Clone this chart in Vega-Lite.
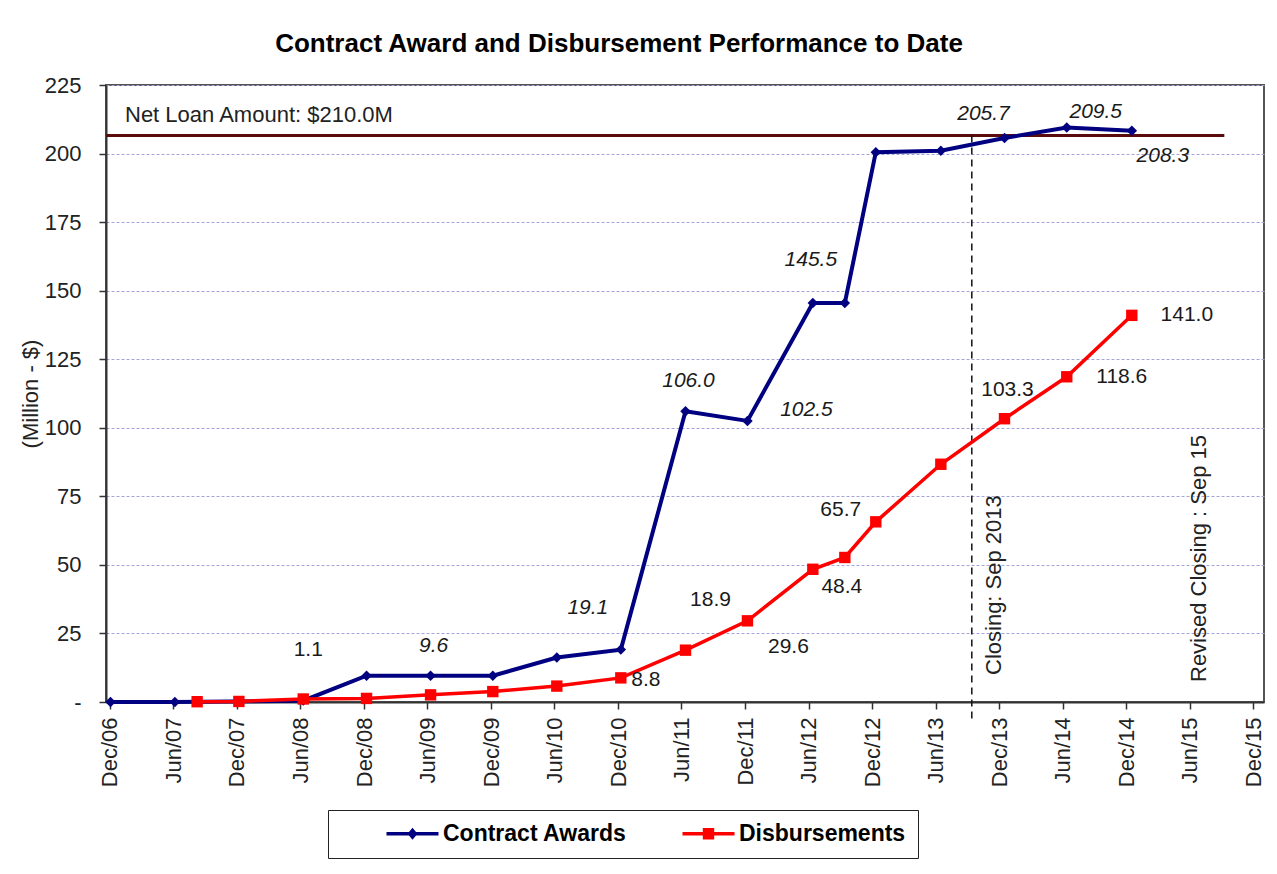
{
  "$schema": "https://vega.github.io/schema/vega-lite/v6.json",
  "width": 1158,
  "height": 617,
  "autosize": {"type": "none"},
  "padding": {"left": 106, "top": 85, "right": 13, "bottom": 172},
  "background": "white",
  "title": {
    "text": "Contract Award and Disbursement  Performance  to Date",
    "font": "Liberation Sans", "fontSize": 26, "fontWeight": "bold", "color": "black",
    "frame": "group", "anchor": "middle", "dx": -66, "offset": -4, "baseline": "alphabetic"
  },
  "config": {
    "font": "Liberation Sans",
    "view": {"stroke": "#555555", "strokeWidth": 2}
  },
  "datasets": {
    "main": [
      {"date": "2006-12-03", "series": "Contract Awards", "value": 0},
      {"date": "2007-06-06", "series": "Contract Awards", "value": 0},
      {"date": "2008-06-09", "series": "Contract Awards", "value": 0.5},
      {"date": "2008-12-08", "series": "Contract Awards", "value": 9.6},
      {"date": "2009-06-10", "series": "Contract Awards", "value": 9.6, "label": "9.6"},
      {"date": "2009-12-06", "series": "Contract Awards", "value": 9.6},
      {"date": "2010-06-08", "series": "Contract Awards", "value": 16.2},
      {"date": "2010-12-09", "series": "Contract Awards", "value": 19.1, "label": "19.1"},
      {"date": "2011-06-13", "series": "Contract Awards", "value": 106.0, "label": "106.0"},
      {"date": "2011-12-08", "series": "Contract Awards", "value": 102.5, "label": "102.5"},
      {"date": "2012-06-13", "series": "Contract Awards", "value": 145.5, "label": "145.5"},
      {"date": "2012-09-13", "series": "Contract Awards", "value": 145.5},
      {"date": "2012-12-11", "series": "Contract Awards", "value": 200.5},
      {"date": "2013-06-16", "series": "Contract Awards", "value": 201.0},
      {"date": "2013-12-16", "series": "Contract Awards", "value": 205.7, "label": "205.7"},
      {"date": "2014-06-13", "series": "Contract Awards", "value": 209.5, "label": "209.5"},
      {"date": "2014-12-17", "series": "Contract Awards", "value": 208.3, "label": "208.3"},
      {"date": "2007-08-09", "series": "Disbursements", "value": 0.1},
      {"date": "2007-12-07", "series": "Disbursements", "value": 0.2},
      {"date": "2008-06-09", "series": "Disbursements", "value": 1.1, "label": "1.1"},
      {"date": "2008-12-08", "series": "Disbursements", "value": 1.3},
      {"date": "2009-06-10", "series": "Disbursements", "value": 2.6},
      {"date": "2009-12-06", "series": "Disbursements", "value": 3.8},
      {"date": "2010-06-08", "series": "Disbursements", "value": 5.8},
      {"date": "2010-12-09", "series": "Disbursements", "value": 8.8, "label": "8.8"},
      {"date": "2011-06-13", "series": "Disbursements", "value": 18.9, "label": "18.9"},
      {"date": "2011-12-08", "series": "Disbursements", "value": 29.6, "label": "29.6"},
      {"date": "2012-06-13", "series": "Disbursements", "value": 48.4, "label": "48.4"},
      {"date": "2012-09-13", "series": "Disbursements", "value": 52.7},
      {"date": "2012-12-11", "series": "Disbursements", "value": 65.7, "label": "65.7"},
      {"date": "2013-06-16", "series": "Disbursements", "value": 86.7},
      {"date": "2013-12-16", "series": "Disbursements", "value": 103.3, "label": "103.3"},
      {"date": "2014-06-13", "series": "Disbursements", "value": 118.6, "label": "118.6"},
      {"date": "2014-12-17", "series": "Disbursements", "value": 141.0, "label": "141.0"}
    ]
  },
  "layer": [
    {
      "data": {"values": [{"start": "2006-11-20", "end": "2015-09-09", "value": 206.6, "label": "Net Loan Amount: $210.0M"}]},
      "mark": {"type": "rule", "color": "#5a0c0c", "strokeWidth": 3},
      "encoding": {
        "x": {
          "field": "start", "type": "temporal",
          "scale": {"type": "utc", "domain": [{"year": 2006, "month": 11, "date": 20, "utc": true}, {"year": 2016, "month": 1, "date": 1, "utc": true}]},
          "axis": {
            "values": [
              {"year": 2006, "month": 12, "date": 1, "utc": true},
              {"year": 2007, "month": 6, "date": 1, "utc": true},
              {"year": 2007, "month": 12, "date": 1, "utc": true},
              {"year": 2008, "month": 6, "date": 1, "utc": true},
              {"year": 2008, "month": 12, "date": 1, "utc": true},
              {"year": 2009, "month": 6, "date": 1, "utc": true},
              {"year": 2009, "month": 12, "date": 1, "utc": true},
              {"year": 2010, "month": 6, "date": 1, "utc": true},
              {"year": 2010, "month": 12, "date": 1, "utc": true},
              {"year": 2011, "month": 6, "date": 1, "utc": true},
              {"year": 2011, "month": 12, "date": 1, "utc": true},
              {"year": 2012, "month": 6, "date": 1, "utc": true},
              {"year": 2012, "month": 12, "date": 1, "utc": true},
              {"year": 2013, "month": 6, "date": 1, "utc": true},
              {"year": 2013, "month": 12, "date": 1, "utc": true},
              {"year": 2014, "month": 6, "date": 1, "utc": true},
              {"year": 2014, "month": 12, "date": 1, "utc": true},
              {"year": 2015, "month": 6, "date": 1, "utc": true},
              {"year": 2015, "month": 12, "date": 1, "utc": true}
            ],
            "labelExpr": "utcFormat(datum.value, '%b/%y')",
            "labelAngle": 270, "labelFontSize": 22, "labelColor": "#222222", "labelPadding": 8,
            "labelOverlap": false, "labelFlush": false, "labelBound": false,
            "tickSize": 7, "tickColor": "#333333", "tickWidth": 1.5,
            "domainColor": "#333333", "domainWidth": 2, "grid": false, "title": null
          }
        },
        "x2": {"field": "end"},
        "y": {
          "field": "value", "type": "quantitative",
          "scale": {"domain": [0, 225], "nice": false, "zero": false},
          "axis": {
            "values": [0, 25, 50, 75, 100, 125, 150, 175, 200, 225],
            "labelExpr": "datum.value == 0 ? '-' : datum.label",
            "labelFontSize": 22, "labelColor": "#222222", "labelPadding": 18,
            "tickSize": 7, "tickColor": "#333333", "tickWidth": 1.5,
            "domainColor": "#333333", "domainWidth": 2,
            "grid": true, "gridColor": "#a4a4d8", "gridDash": [3, 2], "gridWidth": 1,
            "title": "(Million - $)", "titleFontSize": 22, "titleFontWeight": "normal", "titleColor": "#222222", "titlePadding": 2
          }
        }
      }
    },
    {
      "data": {"values": [{"start": "2006-11-20", "value": 206.6, "label": "Net Loan Amount: $210.0M"}]},
      "mark": {"type": "text", "align": "left", "baseline": "alphabetic", "dx": 19, "dy": -13, "fontSize": 22, "color": "#222222"},
      "encoding": {
        "x": {"field": "start", "type": "temporal"},
        "y": {"field": "value", "type": "quantitative"},
        "text": {"field": "label"}
      }
    },
    {
      "data": {"values": [{"date": "2013-09-13", "top": 206.6, "bottom": -6, "label": "Closing: Sep 2013"}]},
      "mark": {"type": "rule", "color": "#111111", "strokeWidth": 1.5, "strokeDash": [7, 5]},
      "encoding": {
        "x": {"field": "date", "type": "temporal"},
        "y": {"field": "top", "type": "quantitative"},
        "y2": {"field": "bottom"}
      }
    },
    {
      "data": {"values": [{"date": "2013-09-13", "base": 0, "label": "Closing: Sep 2013"}]},
      "mark": {"type": "text", "angle": 270, "align": "left", "baseline": "middle", "dx": 27, "dy": 22, "fontSize": 22, "color": "#222222"},
      "encoding": {
        "x": {"field": "date", "type": "temporal"},
        "y": {"field": "base", "type": "quantitative"},
        "text": {"field": "label"}
      }
    },
    {
      "data": {"values": [{"date": "2015-09-01", "base": 0, "label": "Revised Closing : Sep 15"}]},
      "mark": {"type": "text", "angle": 270, "align": "left", "baseline": "middle", "dx": 20, "dy": -23, "fontSize": 22, "color": "#222222"},
      "encoding": {
        "x": {"field": "date", "type": "temporal"},
        "y": {"field": "base", "type": "quantitative"},
        "text": {"field": "label"}
      }
    },
    {
      "data": {"name": "main"},
      "transform": [{"filter": "datum.series == 'Contract Awards'"}],
      "mark": {"type": "line", "strokeWidth": 4, "color": "#000080"},
      "encoding": {
        "x": {"field": "date", "type": "temporal"},
        "y": {"field": "value", "type": "quantitative"}
      }
    },
    {
      "data": {"name": "main"},
      "transform": [{"filter": "datum.series == 'Contract Awards'"}],
      "mark": {"type": "point", "shape": "diamond", "filled": true, "size": 110, "color": "#000080", "opacity": 1},
      "encoding": {
        "x": {"field": "date", "type": "temporal"},
        "y": {"field": "value", "type": "quantitative"}
      }
    },
    {
      "data": {"name": "main"},
      "transform": [{"filter": "datum.series == 'Disbursements'"}],
      "mark": {"type": "line", "strokeWidth": 3.5, "color": "#ff0000"},
      "encoding": {
        "x": {"field": "date", "type": "temporal"},
        "y": {"field": "value", "type": "quantitative"}
      }
    },
    {
      "data": {"name": "main"},
      "transform": [{"filter": "datum.series == 'Disbursements'"}],
      "mark": {"type": "point", "shape": "square", "filled": true, "size": 130, "color": "#ff0000", "opacity": 1},
      "encoding": {
        "x": {"field": "date", "type": "temporal"},
        "y": {"field": "value", "type": "quantitative"}
      }
    },
    {"data": {"name": "main"}, "transform": [{"filter": {"field": "label", "oneOf": ["9.6", "106.0"]}}], "mark": {"type": "text", "fontSize": 21, "fontStyle": "italic", "color": "#1a1a1a", "dx": 3, "dy": -30}, "encoding": {"x": {"field": "date", "type": "temporal"}, "y": {"field": "value", "type": "quantitative"}, "text": {"field": "label"}}},
    {"data": {"name": "main"}, "transform": [{"filter": {"field": "label", "equal": "19.1"}}], "mark": {"type": "text", "fontSize": 21, "fontStyle": "italic", "color": "#1a1a1a", "dx": -33, "dy": -42}, "encoding": {"x": {"field": "date", "type": "temporal"}, "y": {"field": "value", "type": "quantitative"}, "text": {"field": "label"}}},
    {"data": {"name": "main"}, "transform": [{"filter": {"field": "label", "equal": "102.5"}}], "mark": {"type": "text", "fontSize": 21, "fontStyle": "italic", "color": "#1a1a1a", "dx": 59, "dy": -11}, "encoding": {"x": {"field": "date", "type": "temporal"}, "y": {"field": "value", "type": "quantitative"}, "text": {"field": "label"}}},
    {"data": {"name": "main"}, "transform": [{"filter": {"field": "label", "equal": "145.5"}}], "mark": {"type": "text", "fontSize": 21, "fontStyle": "italic", "color": "#1a1a1a", "dx": -2, "dy": -43}, "encoding": {"x": {"field": "date", "type": "temporal"}, "y": {"field": "value", "type": "quantitative"}, "text": {"field": "label"}}},
    {"data": {"name": "main"}, "transform": [{"filter": {"field": "label", "equal": "205.7"}}], "mark": {"type": "text", "fontSize": 21, "fontStyle": "italic", "color": "#1a1a1a", "dx": -21, "dy": -24}, "encoding": {"x": {"field": "date", "type": "temporal"}, "y": {"field": "value", "type": "quantitative"}, "text": {"field": "label"}}},
    {"data": {"name": "main"}, "transform": [{"filter": {"field": "label", "equal": "209.5"}}], "mark": {"type": "text", "fontSize": 21, "fontStyle": "italic", "color": "#1a1a1a", "dx": 29, "dy": -16}, "encoding": {"x": {"field": "date", "type": "temporal"}, "y": {"field": "value", "type": "quantitative"}, "text": {"field": "label"}}},
    {"data": {"name": "main"}, "transform": [{"filter": {"field": "label", "equal": "208.3"}}], "mark": {"type": "text", "fontSize": 21, "fontStyle": "italic", "color": "#1a1a1a", "dx": 31, "dy": 25}, "encoding": {"x": {"field": "date", "type": "temporal"}, "y": {"field": "value", "type": "quantitative"}, "text": {"field": "label"}}},
    {"data": {"name": "main"}, "transform": [{"filter": {"field": "label", "equal": "1.1"}}], "mark": {"type": "text", "fontSize": 21, "color": "#1a1a1a", "dx": 5, "dy": -49}, "encoding": {"x": {"field": "date", "type": "temporal"}, "y": {"field": "value", "type": "quantitative"}, "text": {"field": "label"}}},
    {"data": {"name": "main"}, "transform": [{"filter": {"field": "label", "equal": "8.8"}}], "mark": {"type": "text", "fontSize": 21, "color": "#1a1a1a", "dx": 25, "dy": 2}, "encoding": {"x": {"field": "date", "type": "temporal"}, "y": {"field": "value", "type": "quantitative"}, "text": {"field": "label"}}},
    {"data": {"name": "main"}, "transform": [{"filter": {"field": "label", "equal": "18.9"}}], "mark": {"type": "text", "fontSize": 21, "color": "#1a1a1a", "dx": 25, "dy": -50}, "encoding": {"x": {"field": "date", "type": "temporal"}, "y": {"field": "value", "type": "quantitative"}, "text": {"field": "label"}}},
    {"data": {"name": "main"}, "transform": [{"filter": {"field": "label", "equal": "29.6"}}], "mark": {"type": "text", "fontSize": 21, "color": "#1a1a1a", "dx": 41, "dy": 26}, "encoding": {"x": {"field": "date", "type": "temporal"}, "y": {"field": "value", "type": "quantitative"}, "text": {"field": "label"}}},
    {"data": {"name": "main"}, "transform": [{"filter": {"field": "label", "equal": "48.4"}}], "mark": {"type": "text", "fontSize": 21, "color": "#1a1a1a", "dx": 29, "dy": 18}, "encoding": {"x": {"field": "date", "type": "temporal"}, "y": {"field": "value", "type": "quantitative"}, "text": {"field": "label"}}},
    {"data": {"name": "main"}, "transform": [{"filter": {"field": "label", "equal": "65.7"}}], "mark": {"type": "text", "fontSize": 21, "color": "#1a1a1a", "dx": -35, "dy": -12}, "encoding": {"x": {"field": "date", "type": "temporal"}, "y": {"field": "value", "type": "quantitative"}, "text": {"field": "label"}}},
    {"data": {"name": "main"}, "transform": [{"filter": {"field": "label", "equal": "103.3"}}], "mark": {"type": "text", "fontSize": 21, "color": "#1a1a1a", "dx": 3, "dy": -29}, "encoding": {"x": {"field": "date", "type": "temporal"}, "y": {"field": "value", "type": "quantitative"}, "text": {"field": "label"}}},
    {"data": {"name": "main"}, "transform": [{"filter": {"field": "label", "oneOf": ["118.6", "141.0"]}}], "mark": {"type": "text", "fontSize": 21, "color": "#1a1a1a", "dx": 55, "dy": 0}, "encoding": {"x": {"field": "date", "type": "temporal"}, "y": {"field": "value", "type": "quantitative"}, "text": {"field": "label"}}},
    {
      "data": {"name": "main"},
      "transform": [{"filter": "false"}],
      "mark": {"type": "point", "filled": true, "opacity": 1},
      "encoding": {
        "color": {
          "field": "series", "type": "nominal",
          "scale": {"domain": ["Contract Awards", "Disbursements"], "range": ["#000080", "#ff0000"]},
          "legend": {
            "orient": "none", "legendX": 222, "legendY": 725, "direction": "horizontal", "title": null,
            "padding": 12, "strokeColor": "#222222", "fillColor": "white", "gridAlign": "all",
            "symbolSize": 400, "symbolOffset": 61, "labelOffset": 19, "columnPadding": 9,
            "symbolStrokeWidth": 0, "symbolOpacity": 1, "labelFontSize": 23, "labelFontWeight": "bold", "labelColor": "black", "labelLimit": 400
          }
        },
        "shape": {
          "field": "series", "type": "nominal",
          "scale": {"domain": ["Contract Awards", "Disbursements"], "range": ["M-2.6,-0.18L2.6,-0.18L2.6,0.18L-2.6,0.18Z M0,-0.6L0.5,0L0,0.6L-0.5,0Z", "M-2.6,-0.18L2.6,-0.18L2.6,0.18L-2.6,0.18Z M-0.57,-0.57L0.57,-0.57L0.57,0.57L-0.57,0.57Z"]},
          "legend": {
            "orient": "none", "legendX": 222, "legendY": 725, "direction": "horizontal", "title": null,
            "padding": 12, "strokeColor": "#222222", "fillColor": "white", "gridAlign": "all",
            "symbolSize": 400, "symbolOffset": 61, "labelOffset": 19, "columnPadding": 9,
            "symbolStrokeWidth": 0, "symbolOpacity": 1, "labelFontSize": 23, "labelFontWeight": "bold", "labelColor": "black", "labelLimit": 400
          }
        }
      }
    }
  ]
}
